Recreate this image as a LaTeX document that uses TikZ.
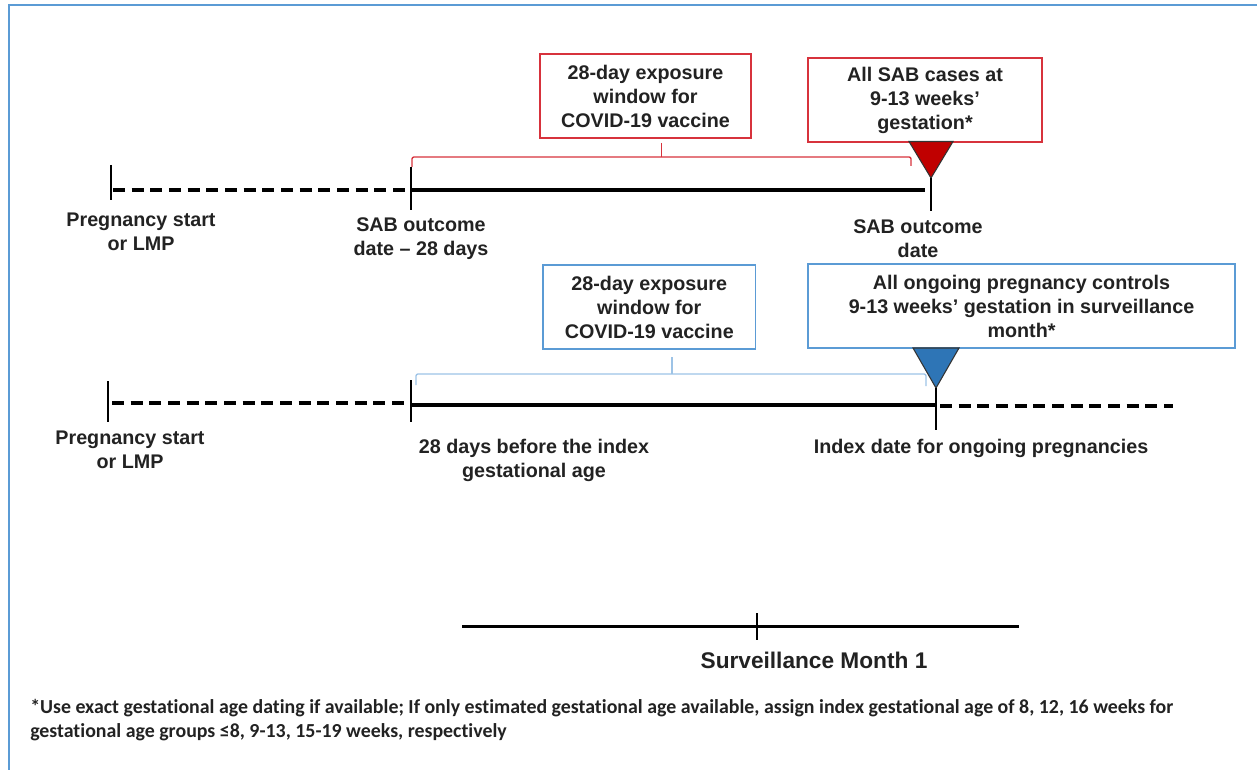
\documentclass[tikz,border=0pt]{standalone}
\usepackage{fontspec}
\setmainfont{Liberation Sans}
\newfontfamily\notefont[Ligatures={NoCommon}]{Carlito}
\definecolor{frameblue}{HTML}{5B9BD5}
\definecolor{boxred}{HTML}{D7323C}
\definecolor{trired}{HTML}{C00000}
\definecolor{boxblue}{HTML}{5B9BD5}
\definecolor{brblue}{HTML}{9DC3E6}
\definecolor{triblue}{HTML}{2E75B6}
\definecolor{txt}{HTML}{222222}
\begin{document}
\begin{tikzpicture}[x=0.75pt,y=-0.75pt,
  lbl/.style={text=txt,font=\bfseries\fontsize{14.8}{18}\selectfont,align=center,inner sep=0pt},
  rbox/.style={draw=boxred,line width=1.1pt,fill=white,lbl,minimum height=63pt},
  bbox/.style={draw=boxblue,line width=1.1pt,fill=white,lbl,minimum height=63pt},
  thickline/.style={line width=3pt,black},
  dashline/.style={line width=3pt,black,dash pattern=on 9pt off 5pt},
  tickline/.style={line width=1.1pt,black},
  rbracket/.style={draw=boxred,line width=1pt,rounded corners=1.5pt},
  bbracket/.style={draw=brblue,line width=1pt,rounded corners=1.5pt},
  note/.style={text=txt,font=\notefont\bfseries\fontsize{14.9}{18}\selectfont,inner sep=0pt,anchor=base west}]
\useasboundingbox (0,0) rectangle (1257,770);
% frame
\draw[frameblue,line width=1.6pt] (9,775) -- (9,5) -- (1262,5);

% ---------- Row 1 (SAB cases) ----------
\coordinate (r1s) at (111,190);
\coordinate (r1w) at (411,190);
\coordinate (r1e) at (931,190);
\draw[tickline] (111,165) -- (111,200);
\draw[tickline] (411,167) -- (411,210);
\draw[dashline] (113,190) -- (406,190);
\draw[thickline] (r1w) -- (925,190);

\node[rbox,minimum width=158pt] (rb1) at (645.5,96) {28-day exposure\\window for\\COVID-19 vaccine};
\node[rbox,minimum width=175.5pt] (rb2) at (925,100) {All SAB cases at\\9-13 weeks'\\gestation*};

\coordinate (rbL) at (412,167);
\coordinate (rbR) at (911,166);
\coordinate (rbM) at (661.7,157);
\draw[rbracket] (rbL) -- (412,157) -- (911,157) -- (rbR);
\draw[boxred,line width=1pt] (661.7,143) -- (rbM);

\coordinate (rt1) at (909,141.5);
\coordinate (rt2) at (953,141.5);
\coordinate (rt3) at (931,178);
\draw[fill=trired,draw=black!80,line width=0.8pt,line join=miter] (rt1) -- (rt2) -- (rt3) -- cycle;
\draw[tickline] (rt3) -- (931,211);

\node[lbl] (l1a) at (141,231.5) {Pregnancy start\\or LMP};
\node[lbl] (l1b) at (421,238.5) {SAB outcome\\date -- 28 days};
\node[lbl] (l1c) at (918,238.7) {SAB outcome\\date};

% ---------- Row 2 (ongoing pregnancies) ----------
\coordinate (r2s) at (108,404);
\coordinate (r2w) at (411,405);
\coordinate (r2e) at (936,405);
\draw[tickline] (108,381) -- (108,422);
\draw[tickline] (411,380) -- (411,422);
\draw[dashline] (112,403) -- (406,403);
\draw[thickline] (412,405) -- (935,405);
\draw[dashline] (940,405.5) -- (1173,405.5);

\node[bbox,minimum width=159.5pt] (bb1) at (649.3,307) {28-day exposure\\window for\\COVID-19 vaccine};
\node[bbox,minimum width=320.25pt] (bb2) at (1021.5,306) {All ongoing pregnancy controls\\9-13 weeks' gestation in surveillance\\month*};

\coordinate (bbL) at (416,385);
\coordinate (bbR) at (926,386);
\coordinate (bbM) at (672,374);
\draw[bbracket] (bbL) -- (416,374) -- (926,374) -- (bbR);
\draw[brblue,line width=1pt] (672,357) -- (bbM);

\coordinate (bt1) at (913,348);
\coordinate (bt2) at (959,348);
\coordinate (bt3) at (936,388);
\draw[fill=triblue,draw=black!80,line width=0.8pt,line join=miter] (bt1) -- (bt2) -- (bt3) -- cycle;
\draw[tickline] (bt3) -- (936,430);

\node[lbl] (l2a) at (130,450) {Pregnancy start\\or LMP};
\node[lbl] (l2b) at (534,460.5) {28 days before the index\\gestational age};
\node[lbl] (l2c) at (981,448) {Index date for ongoing pregnancies};

% ---------- Surveillance month ----------
\coordinate (sm1) at (462,626.7);
\coordinate (sm2) at (1019,626.7);
\draw[line width=1.9pt,black] (sm1) -- (sm2);
\draw[line width=0.8pt,black] (757,613) -- (757,640);
\node[lbl,font=\bfseries\fontsize{17}{20}\selectfont] (sml) at (814,660) {Surveillance Month 1};

% ---------- footnote ----------
\node[note] (n1) at (30,713) {*Use exact gestational age dating if available; If only estimated gestational age available, assign index gestational age of 8, 12, 16 weeks for};
\node[note] (n2) at (30,737) {gestational age groups ≤8, 9-13, 15-19 weeks, respectively};
\end{tikzpicture}
\end{document}
